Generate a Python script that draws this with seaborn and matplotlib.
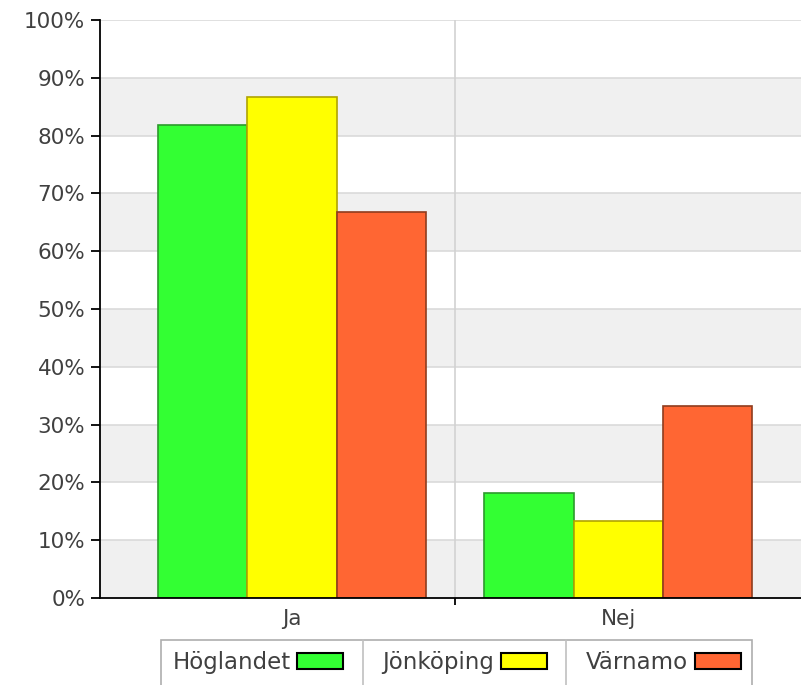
import matplotlib
matplotlib.use("Agg")
import matplotlib.pyplot as plt
from matplotlib.lines import Line2D
from matplotlib.ticker import FuncFormatter
import seaborn as sns
import pandas as pd

# Data (percent)
answers = ["Ja", "Nej"]
regions = ["Höglandet", "Jönköping", "Värnamo"]
hoglandet = [81.8, 18.2]
jonkoping = [86.7, 13.3]
varnamo = [66.7, 33.3]
yticks = list(range(0, 101, 10))

colors = ["#33ff33", "#ffff00", "#ff6633"]
edges = ["#2c9a2c", "#b0a400", "#8f3c1e"]

df = pd.DataFrame({
    "svar": answers * 3,
    "region": [r for r in regions for _ in answers],
    "andel": hoglandet + jonkoping + varnamo,
})

sns.set_style("white")
plt.rcParams["font.family"] = ["DejaVu Sans"]

fig = plt.figure(figsize=(8.01, 6.85), dpi=100)
ax = fig.add_axes([100 / 801, 87 / 685, 701 / 801, 578 / 685])

# alternating background bands + grid
for lo in yticks[:-1:2]:
    ax.axhspan(lo, lo + 10, color="#f0f0f0", lw=0, zorder=0)
for y in yticks[1:]:
    ax.axhline(y, color="#dadada", lw=1.2, zorder=0.5)
ax.axvline(0.5, color="#d2d2d2", lw=1.2, zorder=0.5)

sns.barplot(data=df, x="svar", y="andel", hue="region", palette=colors,
            width=0.82, saturation=1, errorbar=None, ax=ax, zorder=2)

for cont, ec in zip(ax.containers, edges):
    for p in cont:
        p.set_edgecolor(ec)
        p.set_linewidth(1.2)

ax.set_xlim(-0.589, 1.561)
ax.set_ylim(0, 100)
ax.set_yticks(yticks)
ax.yaxis.set_major_formatter(FuncFormatter(lambda v, _: f"{v:.0f}%"))
ax.set_xlabel("")
ax.set_ylabel("")

for s in ["top", "right"]:
    ax.spines[s].set_visible(False)
for s in ["left", "bottom"]:
    ax.spines[s].set_color("black")
    ax.spines[s].set_linewidth(1.3)

ax.tick_params(axis="y", left=True, length=6.5, width=1.3, color="black",
               labelsize=15.5, labelcolor="#404040", pad=4)
ax.tick_params(axis="x", which="major", length=0, labelsize=15.5,
               labelcolor="#404040", pad=8)
ax.set_xticks([0.5], minor=True)
ax.tick_params(axis="x", which="minor", bottom=True, length=5, width=1.3,
               color="black")

# legend below the plot, text before patch
handles, labels = ax.get_legend_handles_labels()
ax.get_legend().remove()
leg = fig.legend(handles, labels, loc="upper left",
                 bbox_to_anchor=(161 / 801, 1 - 640 / 685), ncol=3,
                 markerfirst=False, frameon=True, fancybox=False,
                 edgecolor="#9a9a9a", fontsize=16.5, handlelength=2.0,
                 handleheight=0.7, handletextpad=0.3, columnspacing=1.7,
                 borderpad=0.5, borderaxespad=0)
leg.get_frame().set_linewidth(1.2)
for t in leg.get_texts():
    t.set_color("#404040")
for h in leg.legend_handles:
    h.set_edgecolor("black")
    h.set_linewidth(1.5)

# thin dividers between legend entries
fig.canvas.draw()
inv = fig.transFigure.inverted()
fb = leg.get_frame().get_window_extent()
texts = leg.get_texts()
for h, t_next in zip(leg.legend_handles[:-1], texts[1:]):
    x_end = h.get_window_extent().x1
    x_next = t_next.get_window_extent().x0
    xm = (x_end + x_next) / 2
    (x0, y0), (_, y1) = inv.transform([(xm, fb.y0), (xm, fb.y1)])
    fig.add_artist(Line2D([x0, x0], [y0, y1], color="#c0c0c0", lw=1.2,
                          transform=fig.transFigure, zorder=10))

fig.savefig("out.png", dpi=100)
plt.close()
